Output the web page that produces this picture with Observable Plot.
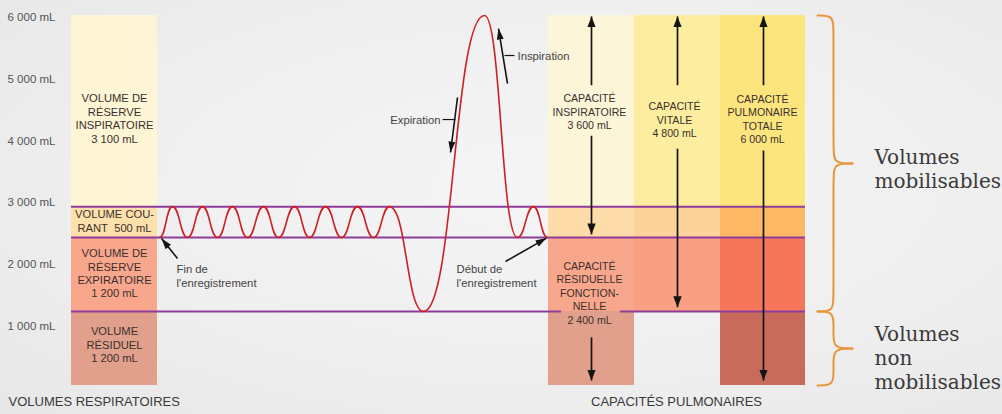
<!DOCTYPE html>
<html><head><meta charset="utf-8">
<script src="https://cdn.jsdelivr.net/npm/d3@7"></script>
<script src="https://cdn.jsdelivr.net/npm/@observablehq/plot@0.6"></script>
<style>
html,body{margin:0;padding:0;}
body{width:1002px;height:414px;overflow:hidden;background:radial-gradient(ellipse at 55% 45%, #f5f5f5 0%, #efefef 55%, #e7e7e7 100%);font-family:"Liberation Sans",Arial,sans-serif;}
#chart svg{display:block;}
</style></head><body><div id="chart"></div>
<script>
// ---------------- data ----------------
const volumeNames = ["Volume résiduel", "Volume de réserve expiratoire", "Volume courant", "Volume de réserve inspiratoire"];
const volumeValues = [1200, 1200, 500, 3100];
const volumeLabels = ["VOLUME\nRÉSIDUEL\n1 200 mL", "VOLUME DE\nRÉSERVE\nEXPIRATOIRE\n1 200 mL", "VOLUME COU-\nRANT\u00a0\u00a0500 mL", "VOLUME DE\nRÉSERVE\nINSPIRATOIRE\n3 100 mL"];
const volumeColors = ["#e0a08b", "#f9a78c", "#fde0aa", "#fdf5d4"];

const capacityNames = ["Capacité inspiratoire", "Capacité résiduelle fonctionnelle", "Capacité vitale", "Capacité pulmonaire totale"];
const capacityValues = [3600, 2400, 4800, 6000];
const capacityBase = [2400, 0, 1200, 0];
const capacityLabels = ["CAPACITÉ\nINSPIRATOIRE\n3 600 mL", "CAPACITÉ\nRÉSIDUELLE\nFONCTION-\nNELLE\n2 400 mL", "CAPACITÉ\nVITALE\n4 800 mL", "CAPACITÉ\nPULMONAIRE\nTOTALE\n6 000 mL"];
// layer colours of each capacity column, from residual volume (bottom) to inspiratory reserve (top)
const columnColors = [
  ["#e0a08b", "#f9a78c", "#fddcaa", "#fdf5d8"],
  [null, "#f99f82", "#fcd29b", "#fdee9f"],
  ["#c96b5b", "#f5765b", "#fcb862", "#fde57e"]
];

const yTicks = [1000, 2000, 3000, 4000, 5000, 6000];

// spirogram extrema (time units, mL) from end of recording (left) to start (right)
const breathT = [159, 172, 187, 202, 217, 232, 247, 263, 278, 294, 309, 325, 341, 357, 373, 389, 423, 484, 517, 533, 547];
const breathV = [2400, 2900, 2400, 2900, 2400, 2900, 2400, 2900, 2400, 2900, 2400, 2900, 2400, 2900, 2400, 2900, 1200, 6000, 2400, 2900, 2400];

const noteTexts = ["Fin de\nl'enregistrement", "Début de\nl'enregistrement", "Expiration", "Inspiration"];
const braceLabels = ["Volumes\nmobilisables", "Volumes\nnon\nmobilisables"];
const braceFrom = [6000, 1200];
const braceTo = [1200, 0];
const sectionTitles = ["VOLUMES RESPIRATOIRES", "CAPACITÉS PULMONAIRES"];

// ---------------- layout (chart units; offsets in px) ----------------
const L = {
  volX: [71, 157],
  colX: [[548, 634], [634, 720], [720, 805]],
  lineX: [71, 805],
  frcGap: [561, 620],
  volLabelX: 114, volLabelDy: [-4, -1.5, -1.5, 7],
  capLabelX: [589, 589, 674, 762], capLabelDy: [-15, -19, -44, -82],
  arrowX: [591, 591, 677, 763],
  arrowUp: [[4870, 5985], null, [4870, 5985], [4870, 5985]],
  arrowDown: [[4050, 2450], [780, 80], [3840, 1270], [3810, 80]],
  noteX: [176, 456, 440, 517], noteY: [1784, 1784, 4313, 5351], noteEnd: [false, false, true, false],
  pointers: [[177, 2060, 161, 2385], [505, 2011, 546, 2390], [457, 4670, 450, 3778], [507, 4897, 498, 5789]],
  connectors: [[442, 455, 4313], [504, 514, 5351]],
  braceX: [817, 833, 852], braceLabelX: 874, braceLabelDy: [4.5, 9],
  titleX: [8, 676]
};
const mlPerPx = 6000 / 370;
const shift = (v, dyPx) => v - dyPx * mlPerPx;

// ---------------- derived tables ----------------
const bounds = [0, ...d3.cumsum(volumeValues)];
const volRects = volumeValues.map((v, i) => ({x1: L.volX[0], x2: L.volX[1], y1: bounds[i], y2: bounds[i + 1], fill: volumeColors[i]}));
const colRects = [];
columnColors.forEach((cols, c) => cols.forEach((f, k) => {
  if (f) colRects.push({x1: L.colX[c][0], x2: L.colX[c][1], y1: bounds[k], y2: bounds[k + 1], fill: f});
}));
const lineSegs = [];
bounds.slice(1, 4).forEach(b => {
  if (b === bounds[1]) { lineSegs.push({y: b, x1: L.lineX[0], x2: L.frcGap[0]}, {y: b, x1: L.frcGap[1], x2: L.lineX[1]}); }
  else lineSegs.push({y: b, x1: L.lineX[0], x2: L.lineX[1]});
});
const breath = breathT.map((t, i) => ({t, v: breathV[i]}));
const upSegs = [], downSegs = [];
capacityNames.forEach((n, i) => {
  const x = L.arrowX[i];
  if (L.arrowUp[i]) upSegs.push({x, y1: L.arrowUp[i][0], y2: L.arrowUp[i][1]});
  if (L.arrowDown[i]) downSegs.push({x, y1: L.arrowDown[i][0], y2: L.arrowDown[i][1]});
});
const capLabels = capacityNames.map((n, i) => ({x: L.capLabelX[i], y: shift(capacityBase[i] + capacityValues[i] / 2, L.capLabelDy[i]), text: capacityLabels[i]}));
const volLabels = volumeNames.map((n, i) => ({x: L.volLabelX, y: shift((bounds[i] + bounds[i + 1]) / 2, L.volLabelDy[i]), text: volumeLabels[i]}));
const notes = noteTexts.map((t, i) => ({x: L.noteX[i], y: L.noteY[i], text: t, end: L.noteEnd[i]}));
const pointers = L.pointers.map(([x1, y1, x2, y2]) => ({x1, y1, x2, y2}));
const connectors = L.connectors.map(([x1, x2, y]) => ({x1, x2, y}));

const bracePts = [];
braceFrom.forEach((y0, i) => {
  const y1 = braceTo[i], ym = (y0 + y1) / 2, c = Math.min(15 * mlPerPx, (y0 - y1) / 5);
  const [tip, spine, mid] = L.braceX;
  const a = `${i}a`, b = `${i}b`;
  [[tip, y0], [spine, y0], [spine, y0 - c], [spine, ym + c], [spine, ym], [mid, ym]].forEach(([x, y]) => bracePts.push({g: a, x, y}));
  [[mid, ym], [spine, ym], [spine, ym - c], [spine, y1 + c], [spine, y1], [tip, y1]].forEach(([x, y]) => bracePts.push({g: b, x, y}));
});
const braceText = braceLabels.map((t, i) => ({x: L.braceLabelX, text: t, y: shift((braceFrom[i] + braceTo[i]) / 2, L.braceLabelDy[i])}));

const fmt = d3.formatLocale({thousands: "\u00a0", grouping: [3], decimal: ","}).format(",");

function head(len, wid) {
  return (color, context) => {
    const ns = "http://www.w3.org/2000/svg";
    const doc = (context && context.document) || document;
    const m = doc.createElementNS(ns, "marker");
    m.setAttribute("viewBox", `${-len} ${-wid / 2} ${len} ${wid}`);
    m.setAttribute("markerWidth", len);
    m.setAttribute("markerHeight", wid);
    m.setAttribute("markerUnits", "userSpaceOnUse");
    m.setAttribute("orient", "auto-start-reverse");
    m.setAttribute("refX", 0);
    m.setAttribute("refY", 0);
    const p = doc.createElementNS(ns, "path");
    p.setAttribute("d", `M${-len},${-wid / 2}L0,0L${-len},${wid / 2}Z`);
    p.setAttribute("fill", color);
    p.setAttribute("stroke", "none");
    m.appendChild(p);
    return m;
  };
}
const bigHead = head(11, 8.5);
const smallHead = head(11, 7);

const sans = "Liberation Sans, Arial, sans-serif";
const chart = Plot.plot({
  width: 1002, height: 414,
  marginLeft: 0, marginRight: 0, marginTop: 15, marginBottom: 29,
  x: {domain: [0, 1002], axis: null},
  y: {domain: [0, 6000], axis: null},
  style: {background: "transparent", fontFamily: sans, overflow: "visible"},
  marks: [
    Plot.rect(volRects, {x1: "x1", x2: "x2", y1: "y1", y2: "y2", fill: d => d.fill}),
    Plot.rect(colRects, {x1: "x1", x2: "x2", y1: "y1", y2: "y2", fill: d => d.fill}),
    Plot.ruleY(lineSegs, {y: "y", x1: "x1", x2: "x2", stroke: "#8e3c9c", strokeWidth: 2}),
    Plot.line(breath, {x: "t", y: "v", curve: "bump-x", stroke: "#cc2028", strokeWidth: 1.6}),
    Plot.link(upSegs, {x1: "x", x2: "x", y1: "y1", y2: "y2", stroke: "#141414", strokeWidth: 1.7, markerEnd: bigHead}),
    Plot.link(downSegs, {x1: "x", x2: "x", y1: "y1", y2: "y2", stroke: "#141414", strokeWidth: 1.7, markerEnd: bigHead}),
    Plot.link(pointers, {x1: "x1", y1: "y1", x2: "x2", y2: "y2", stroke: "#141414", strokeWidth: 1.6, markerEnd: smallHead}),
    Plot.link(connectors, {x1: "x1", x2: "x2", y1: "y", y2: "y", stroke: "#141414", strokeWidth: 1.2}),
    Plot.line(bracePts, {x: "x", y: "y", z: "g", curve: "basis", stroke: "#e8953a", strokeWidth: 2}),
    Plot.text(yTicks, {y: d => d, frameAnchor: "left", dx: 7, dy: 2, text: d => fmt(d) + " mL", textAnchor: "start", fontSize: 11.5, fill: "#555"}),
    Plot.text(volLabels, {x: "x", y: "y", text: "text", fontSize: 11.2, lineHeight: 1.2, fill: "#3a3030"}),
    Plot.text(capLabels, {x: "x", y: "y", text: "text", fontSize: 10.6, lineHeight: 1.27, fill: "#3a3030"}),
    Plot.text(notes.filter(d => !d.end), {x: "x", y: "y", text: "text", textAnchor: "start", fontSize: 11.3, lineHeight: 1.25, fill: "#444"}),
    Plot.text(notes.filter(d => d.end), {x: "x", y: "y", text: "text", textAnchor: "end", fontSize: 11.3, lineHeight: 1.25, fill: "#444"}),
    Plot.text(braceText, {x: "x", y: "y", text: "text", textAnchor: "start", fontFamily: "DejaVu Serif", fontSize: 20, lineHeight: 1.2, fill: "#3a3a3a"}),
    Plot.text([sectionTitles[0]], {x: [L.titleX[0]], frameAnchor: "bottom", dy: 20, textAnchor: "start", fontSize: 13, fill: "#3a3a3a"}),
    Plot.text([sectionTitles[1]], {x: [L.titleX[1]], frameAnchor: "bottom", dy: 20, textAnchor: "middle", fontSize: 13, fill: "#3a3a3a"})
  ]
});
document.getElementById("chart").append(chart);
</script></body></html>
